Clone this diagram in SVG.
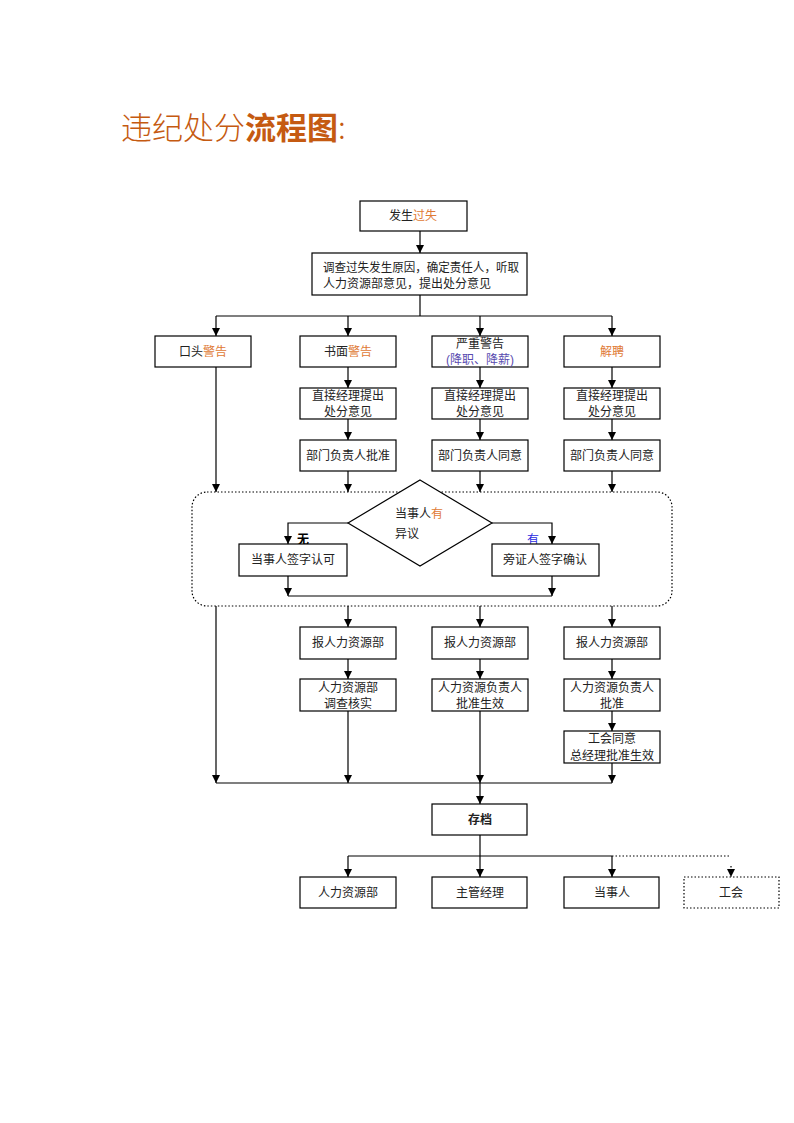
<svg xmlns="http://www.w3.org/2000/svg" width="794" height="1123" viewBox="0 0 794 1123">
<style>
text{font-family:"Liberation Sans","Noto Sans CJK SC",sans-serif;font-size:12px;fill:#222;text-anchor:middle;dominant-baseline:central}
.box{fill:#fff;stroke:#000;stroke-width:1.2}
.dbox{fill:#fff;stroke:#000;stroke-width:1.2;stroke-dasharray:1.5 2}
.ln{fill:none;stroke:#000;stroke-width:1.2}
.dl{fill:none;stroke:#000;stroke-width:1.2;stroke-dasharray:1.5 2}
.o{fill:#e07a35}
.p{fill:#5a4cb0}
.b{fill:#2a2ae0}
.title{font-family:"Noto Sans CJK SC",sans-serif;font-size:31px;fill:#c55a11;text-anchor:start;dominant-baseline:alphabetic}
</style>
<defs>
<marker id="ar" viewBox="0 0 8 8" refX="8" refY="4" markerWidth="8" markerHeight="8" markerUnits="userSpaceOnUse" orient="auto">
<path d="M0,0 L8,4 L0,8 Z" fill="#000"/>
</marker>
</defs>
<rect width="794" height="1123" fill="#fff"/>
<text class="title" x="121" y="139"><tspan font-weight="300">违纪处分</tspan><tspan font-weight="bold">流程图</tspan><tspan font-weight="300">:</tspan></text>

<g id="group-dispute">
<rect x="192" y="492" width="480" height="114" rx="15" ry="15" class="dl"/>
</g>

<g id="connectors">
<path class="ln" d="M420,231 V253" marker-end="url(#ar)"/>
<path class="ln" d="M420,295 V316"/>
<path class="ln" d="M216,316 H612"/>
<path class="ln" d="M216,316 V336" marker-end="url(#ar)"/>
<path class="ln" d="M348,316 V336" marker-end="url(#ar)"/>
<path class="ln" d="M480,316 V336" marker-end="url(#ar)"/>
<path class="ln" d="M612,316 V336" marker-end="url(#ar)"/>
<path class="ln" d="M216,367 V492" marker-end="url(#ar)"/>
<path class="ln" d="M348,367 V388" marker-end="url(#ar)"/>
<path class="ln" d="M480,367 V388" marker-end="url(#ar)"/>
<path class="ln" d="M612,367 V388" marker-end="url(#ar)"/>
<path class="ln" d="M348,419 V440" marker-end="url(#ar)"/>
<path class="ln" d="M480,419 V440" marker-end="url(#ar)"/>
<path class="ln" d="M612,419 V440" marker-end="url(#ar)"/>
<path class="ln" d="M348,471 V492" marker-end="url(#ar)"/>
<path class="ln" d="M480,471 V492" marker-end="url(#ar)"/>
<path class="ln" d="M612,471 V492" marker-end="url(#ar)"/>
<path class="ln" d="M348,523 H288 V544" marker-end="url(#ar)"/>
<path class="ln" d="M492,523 H552 V544" marker-end="url(#ar)"/>
<path class="ln" d="M288,576 V596" marker-end="url(#ar)"/>
<path class="ln" d="M552,576 V596" marker-end="url(#ar)"/>
<path class="ln" d="M288,596 H552"/>
<path class="ln" d="M348,606 V627" marker-end="url(#ar)"/>
<path class="ln" d="M480,606 V627" marker-end="url(#ar)"/>
<path class="ln" d="M612,606 V627" marker-end="url(#ar)"/>
<path class="ln" d="M348,659 V679" marker-end="url(#ar)"/>
<path class="ln" d="M480,659 V679" marker-end="url(#ar)"/>
<path class="ln" d="M612,659 V679" marker-end="url(#ar)"/>
<path class="ln" d="M612,711 V731" marker-end="url(#ar)"/>
<path class="ln" d="M216,606 V783" marker-end="url(#ar)"/>
<path class="ln" d="M348,711 V783" marker-end="url(#ar)"/>
<path class="ln" d="M480,711 V783" marker-end="url(#ar)"/>
<path class="ln" d="M612,763 V783" marker-end="url(#ar)"/>
<path class="ln" d="M216,783 H612"/>
<path class="ln" d="M480,783 V804" marker-end="url(#ar)"/>
<path class="ln" d="M480,835 V856"/>
<path class="ln" d="M348,856 H612"/>
<path class="ln" d="M348,856 V877" marker-end="url(#ar)"/>
<path class="ln" d="M480,856 V877" marker-end="url(#ar)"/>
<path class="ln" d="M612,856 V877" marker-end="url(#ar)"/>
<path class="dl" d="M612,856 H731"/>
<path class="dl" d="M731,866 V877" marker-end="url(#ar)"/>
<text x="303" y="540" style="fill:#000" font-weight="bold">无</text>
<text x="533" y="540" class="b">有</text>
</g>

<g id="n-occur"><rect class="box" x="360" y="201" width="107" height="30"/><text x="413" y="216">发生<tspan class="o">过失</tspan></text></g>
<g id="n-investigate"><rect class="box" x="312" y="253" width="215" height="42"/>
<text x="323" y="268" style="text-anchor:start" textLength="196" lengthAdjust="spacingAndGlyphs">调查过失发生原因，确定责任人，听取</text>
<text x="323" y="284" style="text-anchor:start">人力资源部意见，提出处分意见</text></g>

<g id="n-oral"><rect class="box" x="155" y="336" width="96" height="31"/><text x="203" y="352">口头<tspan class="o">警告</tspan></text></g>
<g id="n-written"><rect class="box" x="300" y="336" width="96" height="31"/><text x="348" y="352">书面<tspan class="o">警告</tspan></text></g>
<g id="n-serious"><rect class="box" x="432" y="336" width="96" height="31"/><text x="480" y="344">严重警告</text><text x="480" y="360" class="p">(降职、降薪)</text></g>
<g id="n-dismiss"><rect class="box" x="564" y="336" width="96" height="31"/><text x="612" y="352" class="o">解聘</text></g>

<g id="n-mgr1"><rect class="box" x="300" y="388" width="96" height="31"/><text x="348" y="396">直接经理提出</text><text x="348" y="412">处分意见</text></g>
<g id="n-mgr2"><rect class="box" x="432" y="388" width="96" height="31"/><text x="480" y="396">直接经理提出</text><text x="480" y="412">处分意见</text></g>
<g id="n-mgr3"><rect class="box" x="564" y="388" width="96" height="31"/><text x="612" y="396">直接经理提出</text><text x="612" y="412">处分意见</text></g>

<g id="n-dept1"><rect class="box" x="300" y="440" width="96" height="31"/><text x="348" y="456">部门负责人批准</text></g>
<g id="n-dept2"><rect class="box" x="432" y="440" width="96" height="31"/><text x="480" y="456">部门负责人同意</text></g>
<g id="n-dept3"><rect class="box" x="564" y="440" width="96" height="31"/><text x="612" y="456">部门负责人同意</text></g>

<g id="n-objection"><path class="box" d="M420,480 L492,523 L420,566 L348,523 Z"/>
<text x="395" y="514" style="text-anchor:start">当事人<tspan class="o">有</tspan></text>
<text x="395" y="534" style="text-anchor:start">异议</text></g>
<g id="n-sign"><rect class="box" x="239" y="544" width="108" height="32"/><text x="293" y="560">当事人签字认可</text></g>
<g id="n-witness"><rect class="box" x="492" y="544" width="107" height="32"/><text x="545" y="560">旁证人签字确认</text></g>

<g id="n-hr1"><rect class="box" x="300" y="627" width="96" height="32"/><text x="348" y="643">报人力资源部</text></g>
<g id="n-hr2"><rect class="box" x="432" y="627" width="96" height="32"/><text x="480" y="643">报人力资源部</text></g>
<g id="n-hr3"><rect class="box" x="564" y="627" width="96" height="32"/><text x="612" y="643">报人力资源部</text></g>

<g id="n-hrcheck"><rect class="box" x="300" y="679" width="96" height="32"/><text x="348" y="688">人力资源部</text><text x="348" y="704">调查核实</text></g>
<g id="n-hrapprove"><rect class="box" x="432" y="679" width="96" height="32"/><text x="480" y="688">人力资源负责人</text><text x="480" y="704">批准生效</text></g>
<g id="n-hrapprove2"><rect class="box" x="564" y="679" width="96" height="32"/><text x="612" y="688">人力资源负责人</text><text x="612" y="704">批准</text></g>
<g id="n-union"><rect class="box" x="564" y="731" width="96" height="32"/><text x="612" y="739">工会同意</text><text x="612" y="756">总经理批准生效</text></g>

<g id="n-archive"><rect class="box" x="432" y="804" width="95" height="31"/><text x="480" y="820" font-weight="bold">存档</text></g>

<g id="n-out-hr"><rect class="box" x="300" y="877" width="96" height="31"/><text x="348" y="893">人力资源部</text></g>
<g id="n-out-mgr"><rect class="box" x="432" y="877" width="95" height="31"/><text x="480" y="893">主管经理</text></g>
<g id="n-out-party"><rect class="box" x="564" y="877" width="95" height="31"/><text x="612" y="893">当事人</text></g>
<g id="n-out-union"><rect class="dbox" x="684" y="877" width="95" height="31"/><text x="731" y="893">工会</text></g>
</svg>
